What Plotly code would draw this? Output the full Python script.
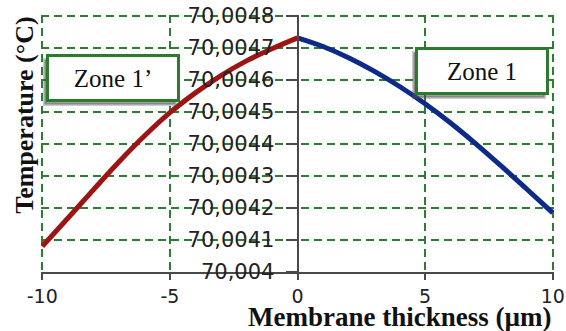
import plotly.graph_objects as go

# Data (temperature in degrees C vs membrane thickness in micrometres)
x_zone1p = [-10, -9, -8, -7, -6, -5, -4, -3, -2, -1, 0]
t_zone1p = [70.004080, 70.004168, 70.004257, 70.004344, 70.004425, 70.004498,
            70.004560, 70.004614, 70.004660, 70.004698, 70.004732]
x_zone1 = [0, 1, 2, 3, 4, 5, 6, 7, 8, 9, 10]
t_zone1 = [70.004732, 70.004705, 70.004670, 70.004628, 70.004580, 70.004526,
           70.004466, 70.004400, 70.004330, 70.004258, 70.004185]

y_tickvals = [70.004, 70.0041, 70.0042, 70.0043, 70.0044, 70.0045, 70.0046, 70.0047, 70.0048]
y_ticktext = ["70,004", "70,0041", "70,0042", "70,0043", "70,0044", "70,0045", "70,0046", "70,0047", "70,0048"]
x_tickvals = [-10, -5, 0, 5, 10]
x_ticktext = ["-10", "-5", "0", "5", "10"]

GRID = "#2e7d32"
AXIS = "#4a4a4a"
XR = [-10.05, 10.05]
YR = [70.004, 70.0048035]

fig = go.Figure()
fig.add_trace(go.Scatter(x=x_zone1p, y=t_zone1p, mode="lines", line=dict(color="#9e1414", width=5, shape="spline"),
                         showlegend=False, hoverinfo="skip"))
fig.add_trace(go.Scatter(x=x_zone1, y=t_zone1, mode="lines", line=dict(color="#0d2a8a", width=5, shape="spline"),
                         showlegend=False, hoverinfo="skip", xaxis="x2", yaxis="y2"))

fig.update_layout(
    width=566, height=331,
    margin=dict(l=41, r=12, t=15, b=59),
    paper_bgcolor="white", plot_bgcolor="white",
    xaxis=dict(range=XR, tickvals=x_tickvals, automargin=False, showticklabels=False,
               showgrid=True, gridcolor=GRID, gridwidth=2, griddash="8px,5px",
               zeroline=False, showline=True, linecolor=AXIS, linewidth=2,
               ticks="outside", ticklen=6, tickcolor=AXIS, tickwidth=2),
    yaxis=dict(range=YR, tickvals=y_tickvals, automargin=False, showticklabels=False,
               anchor="free", position=0.5,
               showgrid=True, gridcolor=GRID, gridwidth=2, griddash="8px,5px",
               zeroline=False, showline=True, linecolor=AXIS, linewidth=2,
               ticks="outside", ticklen=11, tickcolor=AXIS, tickwidth=2),
    # label-only axes (same ranges) to place tick labels like the original figure
    xaxis2=dict(range=XR, tickvals=x_tickvals, ticktext=x_ticktext, overlaying="x",
                anchor="free", position=0, automargin=False,
                showgrid=False, zeroline=False, showline=False,
                ticks="outside", ticklen=7, tickcolor="rgba(0,0,0,0)",
                tickfont=dict(family="DejaVu Sans", size=19, color="#222")),
    yaxis2=dict(range=YR, tickvals=y_tickvals, ticktext=y_ticktext, overlaying="y",
                anchor="free", position=0.455, automargin=False,
                showgrid=False, zeroline=False, showline=False, ticks="",
                tickfont=dict(family="DejaVu Sans", size=21, color="#222")),
    font=dict(family="Liberation Serif", color="#111"),
)

# Axis titles
fig.add_annotation(xref="paper", yref="paper", x=1.0, y=-0.174, xanchor="right", yanchor="middle",
                   text="<b>Membrane thickness (µm)</b>", showarrow=False,
                   font=dict(family="Liberation Serif", size=27, color="#111"))
fig.add_annotation(xref="paper", yref="paper", x=-0.032, y=0.61, xanchor="center", yanchor="middle",
                   text="<b>Temperature (°C)</b>", textangle=-90, showarrow=False,
                   font=dict(family="Liberation Serif", size=26, color="#111"))

# Zone boxes with shadows
for label, bx, by in [("Zone 1’", -7.22, 70.004608), ("Zone 1", 7.24, 70.004627)]:
    fig.add_annotation(x=bx, y=by, text="", showarrow=False, width=124, height=38,
                       xshift=-3, yshift=-4, bgcolor="rgba(80,80,80,0.55)",
                       bordercolor="rgba(80,80,80,0.3)", borderwidth=3, borderpad=2)
    fig.add_annotation(x=bx, y=by, text=label, showarrow=False, width=124, height=38,
                       bgcolor="white", bordercolor="#2b7a2e", borderwidth=3, borderpad=2,
                       font=dict(family="Liberation Serif", size=25, color="#111"))

fig.write_html("out.html")
